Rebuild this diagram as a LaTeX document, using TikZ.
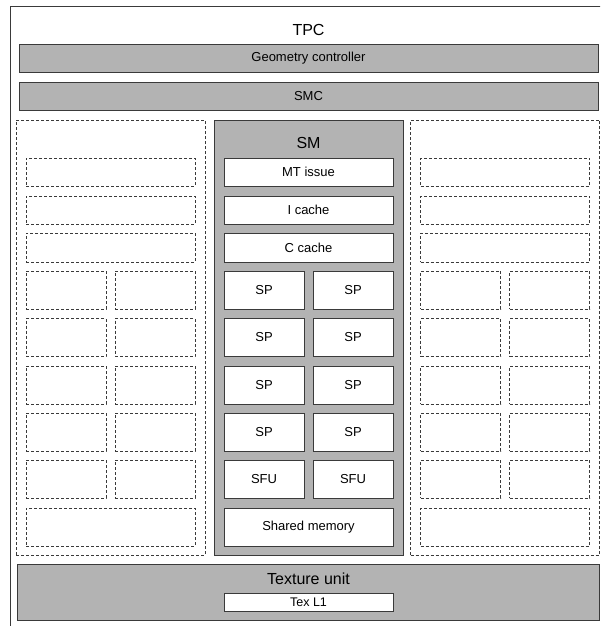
\documentclass[tikz,border=0pt]{standalone}
\usepackage{fontspec}
\setmainfont{Liberation Sans}
\definecolor{blockgray}{HTML}{B3B3B3}
\definecolor{edgegray}{HTML}{3A3A3A}
\tikzset{
  blk/.style={draw=edgegray, line width=0.9pt, inner sep=0pt, font=\fontsize{13}{15}\selectfont},
  bar/.style={blk, fill=blockgray},
  cell/.style={blk, fill=white},
  ghost/.style={draw=edgegray, line width=0.9pt, dash pattern=on 3pt off 2pt, inner sep=0pt},
  biglbl/.style={inner sep=0pt, font=\fontsize{16}{18}\selectfont},
}
\begin{document}
\begin{tikzpicture}[x=1pt,y=-1pt]

    \clip (0,0) rectangle (600,626);

    % TPC frame
    \node [draw=edgegray, line width=1pt, inner sep=0pt, anchor=north west,
           minimum width=597, minimum height=640] (tpc) at (10,6) {};
    \node [biglbl] (tpclbl) at (308.5,30) {TPC};

    % bars
    \node [bar, minimum width=579, minimum height=28] (geo) at (308.5,58) {Geometry controller};
    \node [bar, minimum width=579, minimum height=28] (smc) at (308.5,96) {SMC};

    % SM
    \node [bar, minimum width=189, minimum height=435] (sm) at (308.5,337.5) {};
    \node [biglbl] (smlbl) at (308.5,143) {SM};
    %% full rows
    \foreach \y/\h/\t/\n in {172/28/MT issue/mt, 210/28/I cache/ic,
                             247.5/29/C cache/cc, 527/38/Shared memory/shm}
        \node [cell, minimum width=169, minimum height=\h] (\n) at (308.5,\y) {\t};
    %% split rows
    \foreach \y/\t [count=\i] in {290/SP, 337.5/SP, 385/SP, 432/SP, 479/SFU} {
        \node [cell, minimum width=80, minimum height=38] (coreL\i) at (264,\y) {\t};
        \node [cell, minimum width=80, minimum height=38] (coreR\i) at (353,\y) {\t};
    }

    % other SMs (dashed)
    \foreach \cx/\s in {110.5/L, 505/R} {
        \node [ghost, minimum width=189, minimum height=435] (ghost\s) at (\cx,337.5) {};
        \foreach \y/\h [count=\i] in {172/28, 210/28, 247.5/29, 527/38}
            \node [ghost, minimum width=169, minimum height=\h] (ghost\s-w\i) at (\cx,\y) {};
        \foreach \y [count=\i] in {290, 337.5, 385, 432, 479} {
            \node [ghost, minimum width=80, minimum height=38] (ghost\s-a\i) at ({\cx-44.5},\y) {};
            \node [ghost, minimum width=80, minimum height=38] (ghost\s-b\i) at ({\cx+44.5},\y) {};
        }
    }

    % texture unit
    \node [bar, minimum width=582, minimum height=56] (tex) at (308.5,592) {};
    \node [biglbl] (texlbl) at (308.5,579) {Texture unit};
    \node [cell, minimum width=169, minimum height=18, font=\fontsize{12.5}{14}\selectfont] (texl1) at (308.5,602) {Tex L1};

\end{tikzpicture}
\end{document}
